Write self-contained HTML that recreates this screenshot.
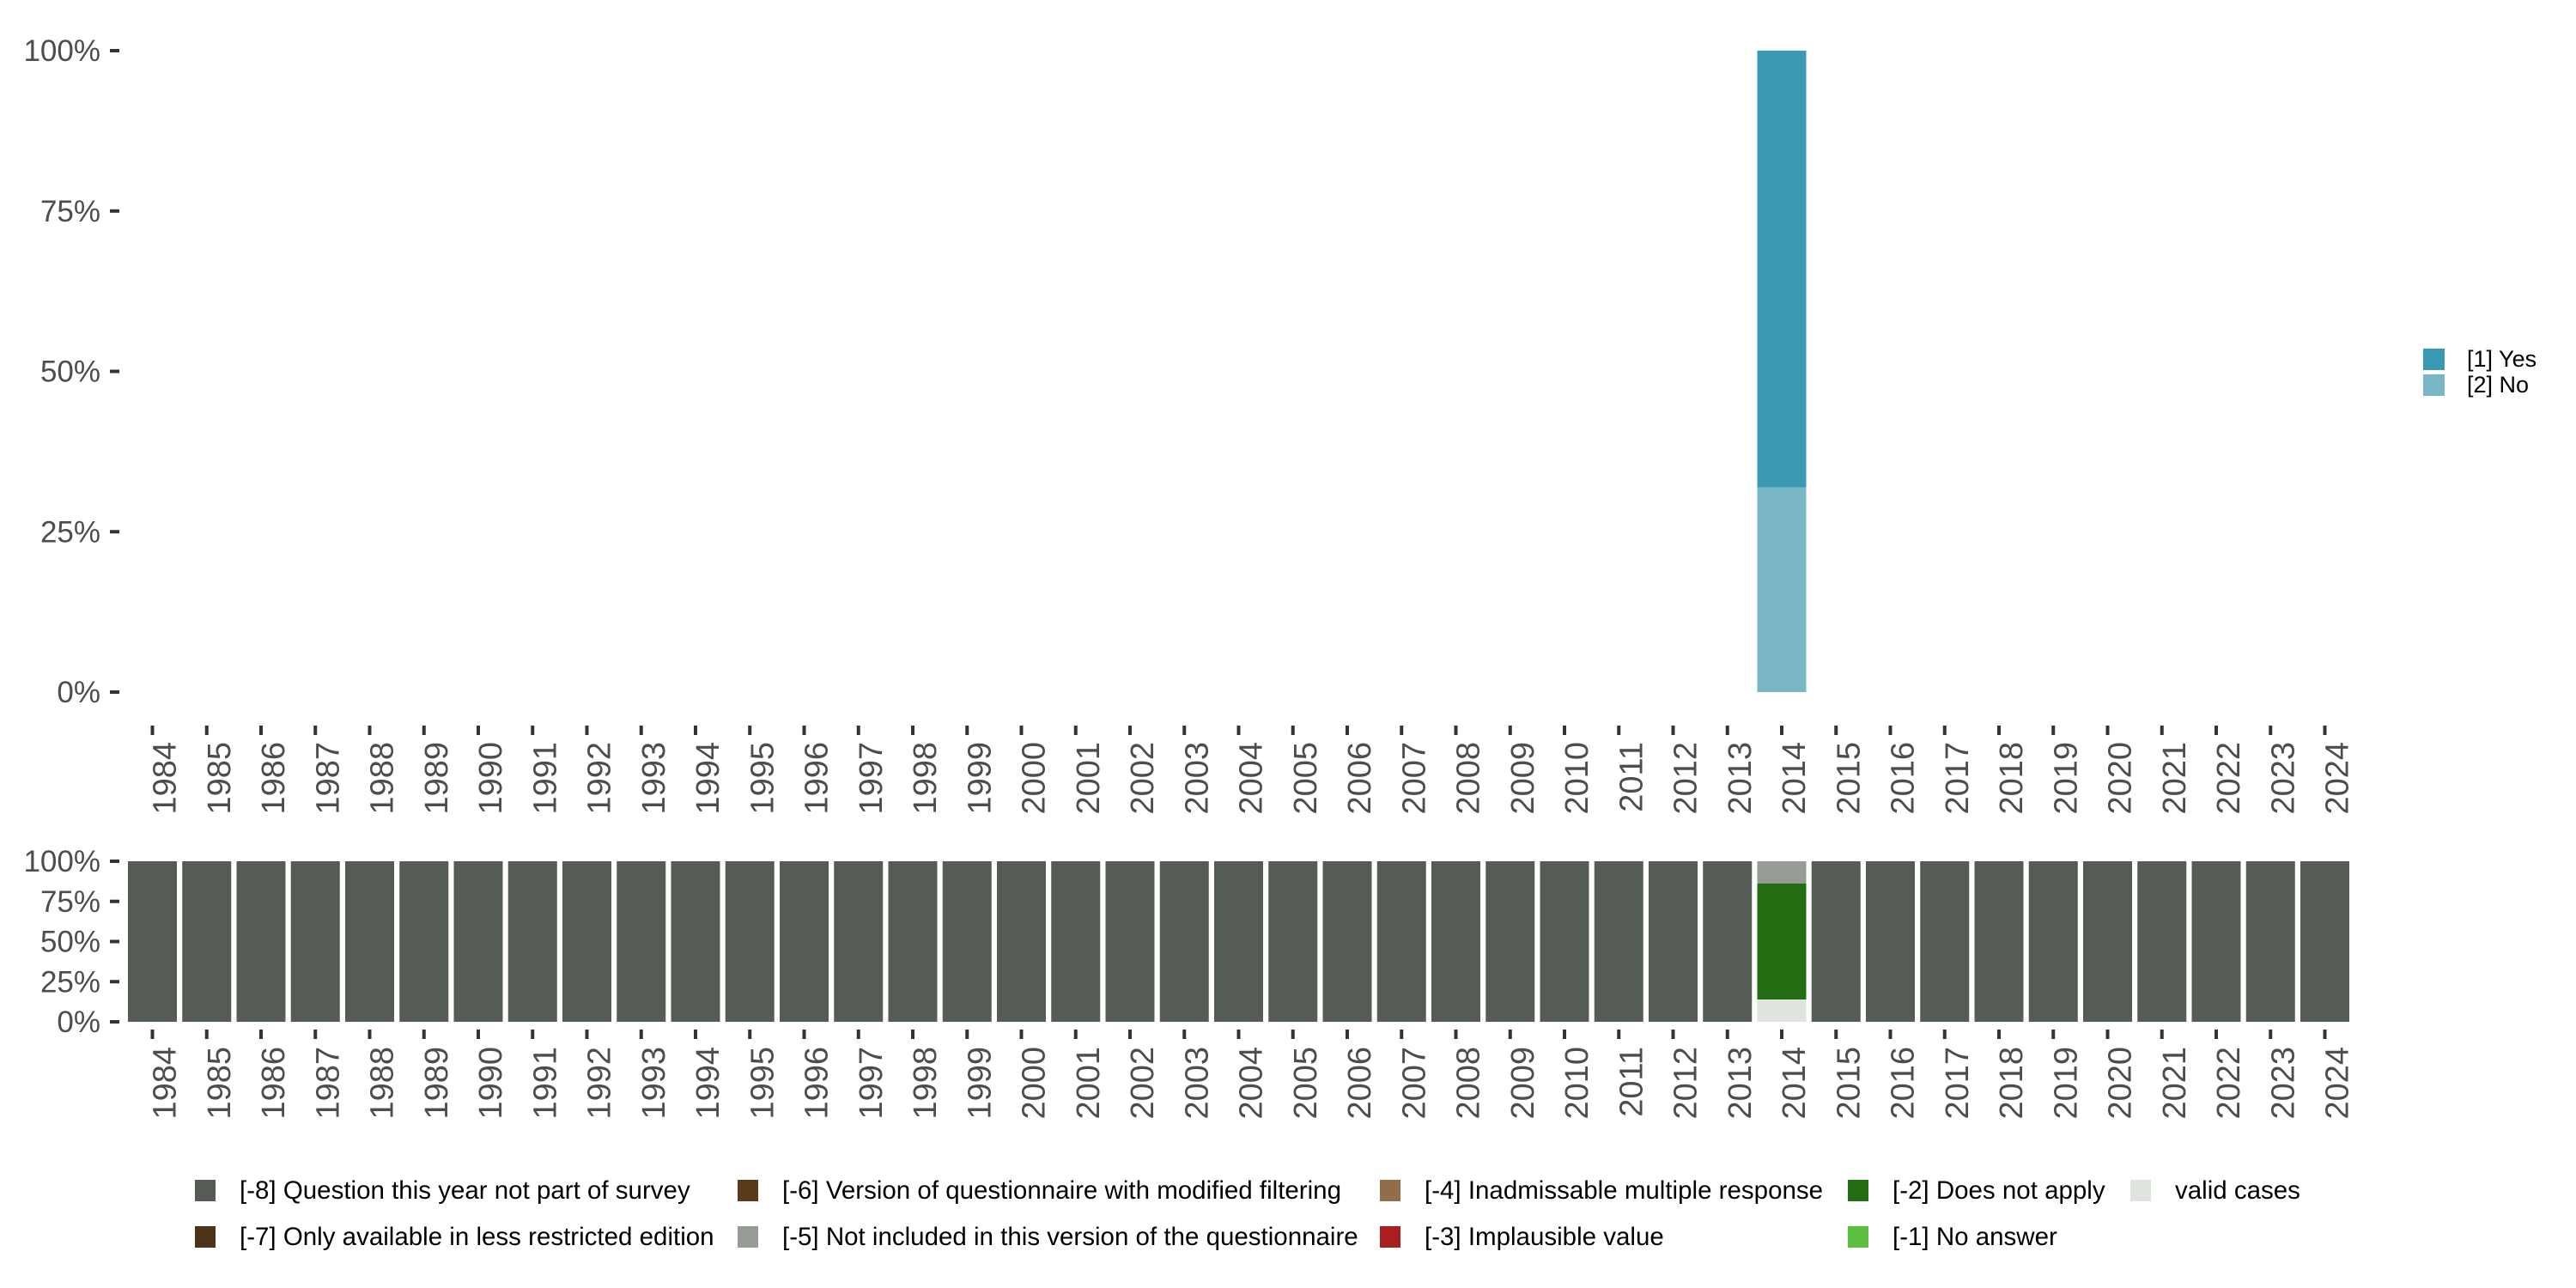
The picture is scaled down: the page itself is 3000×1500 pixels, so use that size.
<!DOCTYPE html>
<html><head><meta charset="utf-8"><style>
html,body{margin:0;padding:0;background:#fff;}
svg{display:block;font-family:"Liberation Sans",sans-serif;}
</style></head><body>
<svg id="chart" width="3000" height="1500" viewBox="0 0 3000 1500" xmlns="http://www.w3.org/2000/svg"></svg>
<script>
const years = [];
for (let y = 1984; y <= 2024; y++) years.push(y);
// top chart: value shares per year (only 2014 has data)
const yesShare = {2014: 0.681};
const noShare = {2014: 0.319};
// bottom chart categories & shares
const missCats = ['[-8] Question this year not part of survey','[-7] Only available in less restricted edition','[-6] Version of questionnaire with modified filtering','[-5] Not included in this version of the questionnaire','[-4] Inadmissable multiple response','[-3] Implausible value','[-2] Does not apply','[-1] No answer','valid cases'];
const missColors = ['#555b55','#4b3219','#5b3a19','#969b94','#916d4a','#a91e1e','#236c12','#5cbf3f','#dfe4df'];
const share2014 = [0, 0, 0, 0.139, 0, 0, 0.722, 0, 0.139];
const yTicks = [0, 0.25, 0.5, 0.75, 1];
const yTickLabels = ['0%','25%','50%','75%','100%'];

const svg = document.getElementById('chart');
const NS = 'http://www.w3.org/2000/svg';
function mk(tag, attrs, parent) {
  const e = document.createElementNS(NS, tag);
  for (const k in attrs) e.setAttribute(k, attrs[k]);
  (parent || svg).appendChild(e);
  return e;
}
const x0 = 177.5, step = 63.25, bw = 57;
function xc(i) { return x0 + i * step; }
const topY0 = 806, topY1 = 59;
function yTop(v) { return topY0 - v * (topY0 - topY1); }
const botY0 = 1190, botY1 = 1003;
function yBot(v) { return botY0 - v * (botY0 - botY1); }

// top y axis
yTicks.forEach((v, i) => {
  const t = mk('text', {x: 117, y: yTop(v) + 12, 'text-anchor': 'end', 'font-size': 35, fill: '#4d4d4d'});
  t.textContent = yTickLabels[i];
  
  
  const l = mk('line', {x1: 128, x2: 139, y1: yTop(v), y2: yTop(v), stroke: '#333', 'stroke-width': 4});
  
  
});
// top bars
years.forEach((yr, i) => {
  if (noShare[yr] !== undefined) {
    const n = noShare[yr], ys = yesShare[yr];
    const r1 = mk('rect', {x: xc(i) - bw / 2, y: yTop(n), width: bw, height: yTop(0) - yTop(n), fill: '#7ab7c6'});
    
    
    const r2 = mk('rect', {x: xc(i) - bw / 2, y: yTop(n + ys), width: bw, height: yTop(n) - yTop(n + ys), fill: '#3b9ab3'});
    
    
  }
  const tk = mk('line', {x1: xc(i), x2: xc(i), y1: 845, y2: 856, stroke: '#333', 'stroke-width': 4});
  
  
  const t = mk('text', {x: 0, y: 0, 'text-anchor': 'end', 'font-size': 38, fill: '#4d4d4d', transform: `translate(${xc(i) + 27},864) rotate(-90)`});
  t.textContent = yr;
  
  
});
// bottom y axis
yTicks.forEach((v, i) => {
  const t = mk('text', {x: 117, y: yBot(v) + 12, 'text-anchor': 'end', 'font-size': 35, fill: '#4d4d4d'});
  t.textContent = yTickLabels[i];
  
  
  const l = mk('line', {x1: 128, x2: 139, y1: yBot(v), y2: yBot(v), stroke: '#333', 'stroke-width': 4});
  
  
});
// bottom bars
const stackOrder = [8, 7, 6, 5, 4, 3, 2, 1, 0];
years.forEach((yr, i) => {
  const shares = yr === 2014 ? share2014 : [1, 0, 0, 0, 0, 0, 0, 0, 0];
  let cum = 0;
  stackOrder.forEach(k => {
    const s = shares[k];
    if (s > 0) {
      const r = mk('rect', {x: xc(i) - bw / 2, y: yBot(cum + s), width: bw, height: yBot(cum) - yBot(cum + s), fill: missColors[k]});
      
      
      cum += s;
    }
  });
  const tk = mk('line', {x1: xc(i), x2: xc(i), y1: 1199, y2: 1210, stroke: '#333', 'stroke-width': 4});
  
  
  const t = mk('text', {x: 0, y: 0, 'text-anchor': 'end', 'font-size': 38, fill: '#4d4d4d', transform: `translate(${xc(i) + 27},1219) rotate(-90)`});
  t.textContent = yr;
  
  
});
// right legend
[['[1] Yes', '#3b9ab3', 406], ['[2] No', '#7ab7c6', 436]].forEach(d => {
  const r = mk('rect', {x: 2822, y: d[2], width: 25, height: 25, fill: d[1]});
  
  
  const t = mk('text', {x: 2873, y: d[2] + 21, 'font-size': 27, fill: '#000'});
  t.textContent = d[0];
  
  
});
// bottom legend
const colX = [227, 859, 1607, 2152, 2481];
const rowY = [1374, 1428];
const layout = [[0,0,0],[1,0,1],[2,1,0],[3,1,1],[4,2,0],[5,2,1],[6,3,0],[7,3,1],[8,4,0]];
layout.forEach(d => {
  const t = mk('text', {x: colX[d[1]] + 52, y: rowY[d[2]] + 22, 'font-size': 29.5, fill: '#000'});
  t.textContent = missCats[d[0]];
  
  
});
layout.forEach(d => {
  const r = mk('rect', {x: colX[d[1]], y: rowY[d[2]], width: 24, height: 25, fill: missColors[d[0]]});
  
  
});
</script>
</body></html>
